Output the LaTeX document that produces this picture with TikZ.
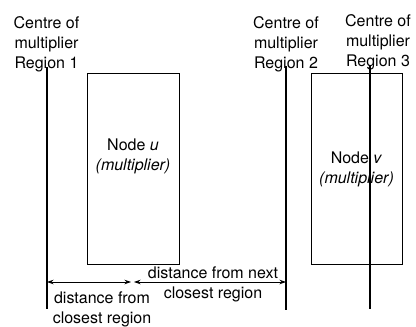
\documentclass[tikz,border=0pt]{standalone}
\usepackage{fontspec}
\setmainfont{TeX Gyre Heros}
\usetikzlibrary{arrows.meta}
\begin{document}
\begin{tikzpicture}[x=1pt,y=-1pt,
  lbl/.style={align=center,inner sep=0pt,font=\fontsize{16}{20}\selectfont},
  centreline/.style={line width=1.6pt},
  box/.style={draw,line width=0.7pt,inner sep=0pt},
  dim/.style={line width=0.7pt,{Stealth[length=6.5pt,width=4.5pt]}-{Stealth[length=6.5pt,width=4.5pt]}}]
\useasboundingbox (0,0) rectangle (416,327);
% region labels
\node[lbl] (r1) at (46.5,44) {Centre of\\multiplier\\Region 1};
\node[lbl] (r2) at (286,44) {Centre of\\multiplier\\Region 2};
\node[lbl] (r3) at (378,42) {Centre of\\multiplier\\Region 3};
% boxes
\node[box,minimum width=92pt,minimum height=191pt] (u) at (133,168.5) {};
\node[box,minimum width=91pt,minimum height=191pt] (v) at (356.5,168.5) {};
\node[lbl] (ut) at (133,156) {Node \textit{u}\\\textit{(multiplier)}};
\node[lbl] (vt) at (356.5,169) {Node \textit{v}\\\textit{(multiplier)}};
% centre lines
\coordinate (l1t) at (47,67);  \coordinate (l1b) at (47,309);
\coordinate (l2t) at (286,66); \coordinate (l2b) at (286,310);
\coordinate (l3t) at (370,65); \coordinate (l3b) at (370,309);
\draw[centreline] (l1t) -- (l1b);
\draw[centreline] (l2t) -- (l2b);
\draw[centreline] (l3t) -- (l3b);
% dimension arrows
\coordinate (a1) at (47,282);
\coordinate (a2) at (131,282);
\coordinate (a3) at (134,282);
\coordinate (a4) at (286,282);
\draw[dim] (a1) -- (a2);
\draw[dim] (a3) -- (a4);
\node[lbl] (d2) at (213,284) {distance from next\\closest region};
\node[lbl] (d1) at (102,309.5) {distance from\\closest region};
\end{tikzpicture}
\end{document}
